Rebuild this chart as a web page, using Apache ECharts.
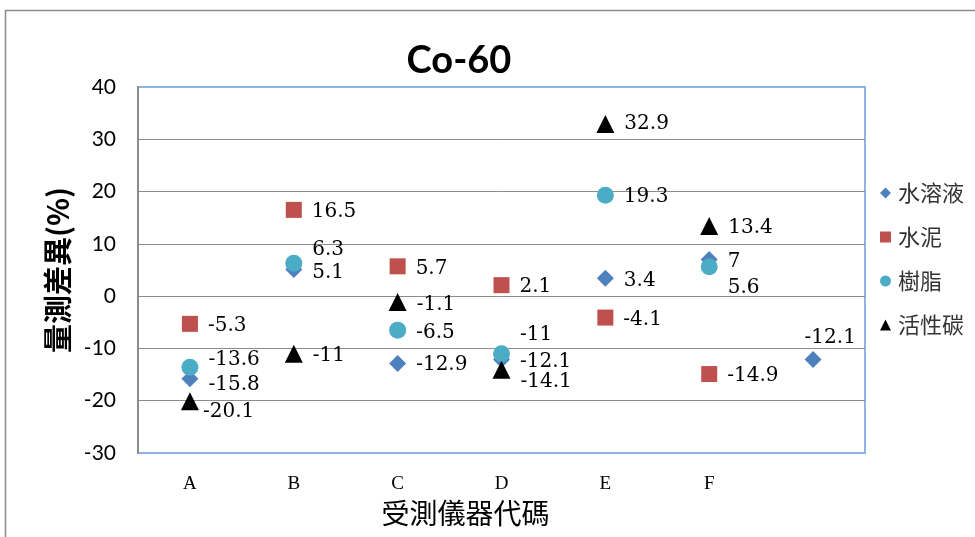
<!DOCTYPE html>
<html><head><meta charset="utf-8">
<script src="https://cdn.jsdelivr.net/npm/echarts@6/dist/echarts.min.js"></script>
<style>html,body{margin:0;padding:0;background:#fff}#c{width:975px;height:537px}</style>
</head><body><div id="c"></div>
<script>
// ---- data ----
const categories = ['A','B','C','D','E','F',''];
const seriesNames = ['水溶液','水泥','樹脂','活性碳'];
const aqueous  = [-15.8, 5.1, -12.9, -12.1, 3.4, 7, -12.1];
const cement   = [-5.3, 16.5, 5.7, 2.1, -4.1, -14.9, null];
const resin    = [-13.6, 6.3, -6.5, -11, 19.3, 5.6, null];
const carbon   = [-20.1, -11, -1.1, -14.1, 32.9, 13.4, null];
const yTicks = {min:-30, max:40, interval:10};

// ---- label offsets (style only) ----
const offAq  = [[0,6],[0,3],[0,1],[0,2],[0,2],[0,2],[-27,-22]];
const offCe  = [[0,2],[0,2],[0,2],[0,2],[0,2],[0,2],[0,2]];
const offRe  = [[0,-7],[0,-13],[0,3],[0,-19],[0,2],[0,21],[0,0]];
const offCa  = [[-6,11],[0,2],[0,3],[0,12],[0,0],[0,2],[0,0]];

function build(vals, offs){
  return vals.map((v,i)=> v===null ? null : ({value:v, label:{offset:offs[i]}}));
}
const colors = ['#4f81bd','#c0504d','#4bacc6','#000000'];
const symbols = ['diamond','rect','circle','triangle'];
const sizes = [17,16,17,18];
const dataSets = [build(aqueous,offAq), build(cement,offCe), build(resin,offRe), build(carbon,offCa)];

const chart = echarts.init(document.getElementById('c'));
chart.setOption({
  animation:false,
  backgroundColor:'#fff',
  graphic:[{type:'rect',shape:{x:5.5,y:10.5,width:1000,height:600},style:{fill:'none',stroke:'#8c8c8c',lineWidth:1.5},silent:true}],
  title:{text:'Co-60',left:454,top:37,textAlign:'center',textStyle:{fontFamily:'Lato',fontWeight:'bold',fontSize:38,color:'#000'}},
  grid:{left:138,right:110,top:87,bottom:84,show:true,borderColor:'#8eb4e3',borderWidth:2,backgroundColor:'transparent'},
  legend:{
    orient:'vertical',left:875,top:177,itemGap:22,itemWidth:11,itemHeight:11,
    data:seriesNames.map((n,i)=>({name:n,icon:symbols[i]})),
    textStyle:{fontFamily:'Noto Sans CJK TC',fontSize:22,color:'#333',padding:[0,0,0,2]}
  },
  xAxis:{
    type:'category',data:categories,boundaryGap:true,
    name:'受測儀器代碼',nameLocation:'middle',nameGap:43,
    nameTextStyle:{fontFamily:'Noto Sans CJK TC',fontSize:28,color:'#000',padding:[0,72,0,0]},
    axisLine:{show:false},axisTick:{show:false},
    axisLabel:{fontFamily:'Liberation Serif',fontSize:19,color:'#000',margin:22},
    splitLine:{show:false}
  },
  yAxis:{
    type:'value',min:yTicks.min,max:yTicks.max,interval:yTicks.interval,
    name:'量測差異(%)',nameLocation:'middle',nameGap:66,
    nameTextStyle:{fontFamily:'Noto Sans CJK TC',fontWeight:'bold',fontSize:29,color:'#000'},
    axisLine:{show:true,lineStyle:{color:'#8c8c8c',width:2}},axisTick:{show:false},
    axisLabel:{fontFamily:'Lato',fontSize:21,color:'#000',margin:22},
    splitLine:{showMinLine:false,showMaxLine:false,lineStyle:{color:'#8c8c8c',width:1}}
  },
  series:seriesNames.map((n,i)=>({
    name:n,type:'scatter',symbol:symbols[i],symbolSize:sizes[i],
    itemStyle:{color:colors[i],opacity:1},
    label:{show:true,position:'right',distance:10,formatter:p=>String(p.value),
      fontFamily:'DejaVu Serif',fontSize:20,color:'#000'},
    data:dataSets[i]
  }))
});
</script></body></html>
